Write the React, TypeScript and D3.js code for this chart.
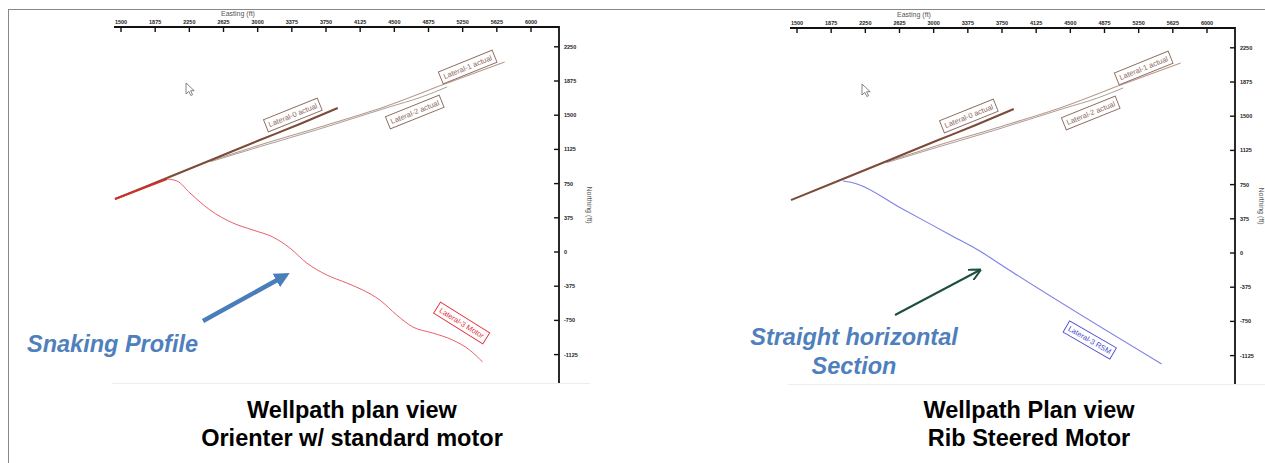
import * as d3 from "d3";

// Easting / Northing in ft
const EAST_TICKS = [1500, 1875, 2250, 2625, 3000, 3375, 3750, 4125, 4500, 4875, 5250, 5625, 6000];
const NORTH_TICKS = [2250, 1875, 1500, 1125, 750, 375, 0, -375, -750, -1125];

const LATERAL_0: [number, number][] = [
  [1434, 581], [2004, 811], [2476, 1003], [3024, 1228], [3463, 1404], [3879, 1579],
];
const LATERAL_1: [number, number][] = [
  [2476, 998], [2750, 1086], [3024, 1173], [3649, 1360], [4417, 1601], [5053, 1842], [5711, 2083],
];
const LATERAL_2: [number, number][] = [
  [2487, 992], [2761, 1075], [3035, 1158], [3660, 1343], [4428, 1585], [4800, 1700], [5080, 1810],
];
const LATERAL_3_MOTOR: [number, number][] = [
  [1434, 581], [2004, 800], [2114, 779], [2257, 647], [2476, 461], [2728, 318], [2947, 241],
  [3167, 164], [3353, 44], [3539, -121], [3759, -252], [3978, -340], [4154, -417], [4340, -526],
  [4526, -691], [4702, -822], [4921, -888], [5140, -965], [5327, -1075], [5469, -1206],
];
const LATERAL_3_RSM: [number, number][] = [
  [2004, 789], [2090, 775], [2158, 757], [2629, 499], [3178, 201], [3507, 22], [3726, -121], [5502, -1217],
];

const BROWN_LABELS = ["Lateral-0 actual", "Lateral-2 actual", "Lateral-1 actual"];
const BROWN_LABEL_AT: [number, number][] = [[3386, 1502], [4724, 1535], [5305, 2028]];

const CAPTIONS_LEFT = ["Wellpath plan view", "Orienter w/ standard motor"];
const CAPTIONS_RIGHT = ["Wellpath Plan view", "Rib Steered Motor"];

const FONT = "'Liberation Sans', Arial, sans-serif";

const x = d3.scaleLinear().domain([1500, 6000]).range([121, 531]);
const y = d3.scaleLinear().domain([0, 2250]).range([252, 46.8]);

const line = d3
  .line<[number, number]>()
  .x((d) => x(d[0]))
  .y((d) => y(d[1]))
  .curve(d3.curveMonotoneX);

function Tag({ at, text, rot, w, color }: { at: [number, number]; text: string; rot: number; w: number; color: string }) {
  return (
    <g transform={`translate(${x(at[0])},${y(at[1])}) rotate(${rot})`}>
      <rect x={-w / 2} y={-6.5} width={w} height={13} fill="white" stroke={color} strokeWidth={0.9} />
      <text textAnchor="middle" dy="0.35em" fontSize={7.5} fill={color} fontFamily={FONT}>
        {text}
      </text>
    </g>
  );
}

function Panel({ dx, dy, variant, northX }: { dx: number; dy: number; variant: "motor" | "rsm"; northX: number }) {
  const axisRight = 559;
  const axisTop = 27;
  const axisBottom = 383;
  return (
    <g transform={`translate(${dx},${dy})`}>
      <line x1={112} x2={590} y1={383.5} y2={383.5} stroke="#eee" />
      {/* top axis */}
      <line x1={114} x2={axisRight} y1={axisTop} y2={axisTop} stroke="#111" strokeWidth={1.8} />
      {EAST_TICKS.map((t) => (
        <g key={t} transform={`translate(${x(t)},${axisTop})`}>
          <line y1={0} y2={5} stroke="#111" strokeWidth={1.4} />
          <text y={-3} textAnchor="middle" fontSize={5.5} fontWeight="bold" fill="#222" fontFamily={FONT}>
            {t}
          </text>
        </g>
      ))}
      <text x={238} y={16} textAnchor="middle" fontSize={7} fill="#555" fontFamily={FONT}>
        Easting (ft)
      </text>
      {/* right axis */}
      <line x1={axisRight} x2={axisRight} y1={axisTop - 0.9} y2={axisBottom} stroke="#111" strokeWidth={1.8} />
      {NORTH_TICKS.map((t) => (
        <g key={t} transform={`translate(${axisRight},${y(t)})`}>
          <line x1={-5} x2={0} stroke="#111" strokeWidth={1.4} />
          <text x={5} dy="0.35em" fontSize={5.5} fontWeight="bold" fill="#222" fontFamily={FONT}>
            {t}
          </text>
        </g>
      ))}
      <text
        transform={`translate(${northX},205) rotate(90)`}
        textAnchor="middle"
        fontSize={7}
        fill="#555"
        fontFamily={FONT}
      >
        Northing (ft)
      </text>

      {/* cursor */}
      <path
        transform="translate(186,83)"
        d="M0,0 L0,11 L2.8,8.4 L4.8,12.5 L6.6,11.7 L4.6,7.7 L8.2,7.7 Z"
        fill="white"
        stroke="#666"
        strokeWidth={0.8}
      />

      <path d={line(LATERAL_1) ?? ""} fill="none" stroke="#b89a8c" strokeWidth={1.1} />
      <path d={line(LATERAL_2) ?? ""} fill="none" stroke="#a8a09a" strokeWidth={1} />
      <path d={line(LATERAL_0) ?? ""} fill="none" stroke="#7b4a38" strokeWidth={2} />
      {variant === "motor" ? (
        <>
          <path d={line(LATERAL_3_MOTOR.slice(0, 2)) ?? ""} fill="none" stroke="#d0302c" strokeWidth={2} />
          <path d={line(LATERAL_3_MOTOR.slice(1)) ?? ""} fill="none" stroke="#e8606a" strokeWidth={1} />
        </>
      ) : (
        <path d={line(LATERAL_3_RSM) ?? ""} fill="none" stroke="#7d7fe6" strokeWidth={1.1} />
      )}

      <Tag at={BROWN_LABEL_AT[0]} text={BROWN_LABELS[0]} rot={-22} w={58} color="#8c6a60" />
      <Tag at={BROWN_LABEL_AT[1]} text={BROWN_LABELS[1]} rot={-22} w={58} color="#8c6a60" />
      <Tag at={BROWN_LABEL_AT[2]} text={BROWN_LABELS[2]} rot={-22} w={58} color="#8c6a60" />
      {variant === "motor" ? (
        <Tag at={[5239, -778]} text="Lateral-3 Motor" rot={32} w={58} color="#e0303a" />
      ) : (
        <Tag at={[4713, -954]} text="Lateral-3 RSM" rot={30} w={54} color="#4a4ad0" />
      )}
    </g>
  );
}

export default function App() {
  return (
    <svg
      width={1265}
      height={463}
      style={{ position: "absolute", left: 0, top: 0, background: "white" }}
    >
      <defs>
        <marker id="blueHead" viewBox="0 0 10 10" refX={2} refY={5} markerWidth={3.4} markerHeight={3.4} orient="auto">
          <path d="M0,0 L10,5 L0,10 Z" fill="#4a7ebb" />
        </marker>
        <marker id="greenHead" viewBox="0 0 10 10" refX={9} refY={5} markerWidth={6} markerHeight={6} orient="auto">
          <path d="M0,0 L10,5 L0,10" fill="none" stroke="#1d4f3f" strokeWidth={1.6} />
        </marker>
      </defs>
      <line x1={8} x2={1265} y1={9.5} y2={9.5} stroke="#888" />
      <line x1={8.5} x2={8.5} y1={9} y2={463} stroke="#888" />

      <Panel dx={0} dy={0} variant="motor" northX={587} />
      <Panel dx={676} dy={1} variant="rsm" northX={583} />

      {/* annotations */}
      <line x1={203} y1={321} x2={279} y2={279} stroke="#4a7ebb" strokeWidth={4.5} markerEnd="url(#blueHead)" />
      <text x={27} y={352} fontSize={23.5} fontStyle="italic" fontWeight="bold" fill="#4f7fbd" fontFamily={FONT}>
        Snaking Profile
      </text>
      <line x1={895} y1={315} x2={980} y2={270} stroke="#1d4f3f" strokeWidth={2} markerEnd="url(#greenHead)" />
      <text x={854} y={345} textAnchor="middle" fontSize={23.5} fontStyle="italic" fontWeight="bold" fill="#4f7fbd" fontFamily={FONT}>
        Straight horizontal
      </text>
      <text x={854} y={374} textAnchor="middle" fontSize={23.5} fontStyle="italic" fontWeight="bold" fill="#4f7fbd" fontFamily={FONT}>
        Section
      </text>

      {CAPTIONS_LEFT.map((c, i) => (
        <text key={c} x={352} y={418 + i * 28} textAnchor="middle" fontSize={23.5} fontWeight="bold" fill="#000" fontFamily={FONT}>
          {c}
        </text>
      ))}
      {CAPTIONS_RIGHT.map((c, i) => (
        <text key={c} x={1029} y={418 + i * 28} textAnchor="middle" fontSize={23.5} fontWeight="bold" fill="#000" fontFamily={FONT}>
          {c}
        </text>
      ))}
    </svg>
  );
}
